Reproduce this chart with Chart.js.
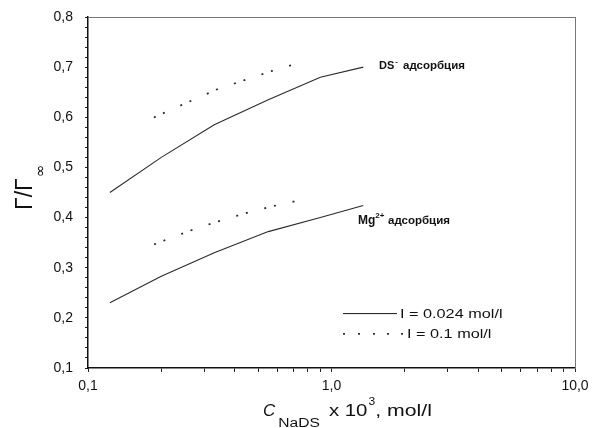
<!DOCTYPE html>
<html lang="ru">
<head>
    <meta charset="UTF-8">
    <title>Адсорбция DS- и Mg2+</title>
    <script src="https://cdn.jsdelivr.net/npm/chart.js"></script>
    <style>
        body { margin: 0; background: #fff; }
    </style>
</head>
<body>
    <canvas id="adsChart" width="592" height="428"></canvas>

    <script>
        // concentrations C(NaDS) x 10^3, mol/l
        const concLowI = [0.123, 0.2, 0.33, 0.55, 0.9, 1.35];
        const concHighI = [0.168, 0.263, 0.34, 0.439, 0.566, 0.731];

        // Г/Г∞ for I = 0.024 mol/l
        const dsLowI = [0.45, 0.52, 0.585, 0.635, 0.68, 0.70];
        const mgLowI = [0.23, 0.283, 0.33, 0.372, 0.40, 0.424];

        // Г/Г∞ for I = 0.1 mol/l
        const dsHighI = [0.59, 0.632, 0.656, 0.674, 0.692, 0.708];
        const mgHighI = [0.338, 0.374, 0.392, 0.408, 0.422, 0.434];

        // log axis tick marks (1..9 in each decade) and the labelled ones
        const xTickMarks = [0.1, 0.2, 0.3, 0.4, 0.5, 0.6, 0.7, 0.8, 0.9,
                            1, 2, 3, 4, 5, 6, 7, 8, 9, 10];
        const xTickValues = [0.1, 1, 10];
        const xTickText = ['0,1', '1,0', '10,0'];
        const legendText = ['I = 0.024 mol/l', 'I = 0.1 mol/l'];

        const INK = '#2a2a2a';
        const DOTS = [2, 8, 2, 17];
        const FONT = 'Arial, "Liberation Sans"';

        const toPoints = (xs, ys) => xs.map((x, i) => ({ x: x, y: ys[i] }));

        function lineSet(label, xs, ys, dotted) {
            return {
                label: label,
                data: toPoints(xs, ys),
                borderColor: INK,
                borderWidth: dotted ? 1.7 : 1.1,
                borderDash: dotted ? DOTS : [],
                borderDashOffset: dotted ? 17 : 0,
                pointRadius: 0,
                tension: 0,
                fill: false
            };
        }

        // text drawn with an optional horizontal stretch
        function drawText(g, str, x, y, font, sx) {
            g.save();
            g.font = font;
            g.translate(x, y);
            g.scale(sx || 1, 1);
            g.fillText(str, 0, 0);
            const w = g.measureText(str).width * (sx || 1);
            g.restore();
            return w;
        }

        // titles, curve captions and legend
        const textPlugin = {
            id: 'captions',
            afterDraw(chart) {
                const g = chart.ctx;
                g.save();
                g.fillStyle = '#111';
                g.textBaseline = 'alphabetic';
                g.textAlign = 'left';

                // x axis title
                let tx = 263;
                tx += drawText(g, 'C', tx, 416, 'italic 17px ' + FONT, 1.0) + 3;
                tx += drawText(g, 'NaDS', tx, 427, '12px ' + FONT, 1.3) + 9;
                tx += drawText(g, 'x 10', tx, 416, '17px ' + FONT, 1.2) + 1;
                tx += drawText(g, '3', tx, 405, '11px ' + FONT, 1.1);
                drawText(g, ', mol/l', tx, 416, '17px ' + FONT, 1.25);

                // y axis title, rotated
                g.save();
                g.translate(32, 210);
                g.rotate(-Math.PI / 2);
                g.font = '23px ' + FONT;
                g.fillText('Γ/Γ', 0, 0);
                g.font = '15px "DejaVu Sans", Arial';
                g.textBaseline = 'middle';
                g.fillText('∞', 33, 9);
                g.restore();

                // curve captions
                let lx = 379;
                lx += drawText(g, 'DS', lx, 69, 'bold 11px ' + FONT, 1.0);
                drawText(g, '-', lx + 1, 64, 'bold 8px ' + FONT, 1.0);
                drawText(g, 'адсорбция', 403, 69, 'bold 11.5px ' + FONT, 1.0);

                lx = 358;
                lx += drawText(g, 'Mg', lx, 224, 'bold 12px ' + FONT, 1.0);
                drawText(g, '2+', lx, 218, 'bold 8px ' + FONT, 1.0);
                drawText(g, 'адсорбция', 388, 224, 'bold 11.5px ' + FONT, 1.0);

                // legend samples
                g.fillStyle = INK;
                g.fillRect(343, 313, 54, 1.1);
                for (const dx of [0, 15, 30, 44, 58]) {
                    g.fillRect(343 + dx, 333, 2, 1.7);
                }
                g.fillStyle = '#111';
                drawText(g, legendText[0], 400, 318, '13px ' + FONT, 1.25);
                drawText(g, legendText[1], 407, 338, '13px ' + FONT, 1.25);

                g.restore();
            }
        };

        const tickMarks = { display: true, drawOnChartArea: false, drawTicks: true, tickLength: 4, color: '#222', lineWidth: 1 };
        const isMajor = v => Math.abs(v * 10 - Math.round(v * 10)) < 1e-6;

        const canvas = document.getElementById('adsChart');
        new Chart(canvas, {
            type: 'line',
            data: {
                datasets: [
                    lineSet('DS- I=0.024', concLowI, dsLowI, false),
                    lineSet('DS- I=0.1', concHighI, dsHighI, true),
                    lineSet('Mg2+ I=0.024', concLowI, mgLowI, false),
                    lineSet('Mg2+ I=0.1', concHighI, mgHighI, true)
                ]
            },
            options: {
                responsive: false,
                animation: false,
                layout: { padding: { top: 17, right: 17, left: 0, bottom: 0 } },
                plugins: {
                    legend: { display: false },
                    tooltip: { enabled: false }
                },
                scales: {
                    x: {
                        type: 'logarithmic',
                        min: 0.1,
                        max: 10,
                        afterBuildTicks: s => { s.ticks = xTickMarks.map(v => ({ value: v })); },
                        afterFit: s => { s.height = 60; s.paddingLeft = 0; s.paddingRight = 0; },
                        grid: tickMarks,
                        border: { display: true, color: '#111', width: 1.5 },
                        ticks: {
                            autoSkip: false,
                            maxRotation: 0,
                            padding: 6,
                            color: '#111',
                            font: { family: FONT, size: 14 },
                            callback: v => {
                                const i = xTickValues.findIndex(t => Math.abs(t - v) < 1e-9);
                                return i >= 0 ? xTickText[i] : '';
                            }
                        }
                    },
                    y: {
                        min: 0.1,
                        max: 0.8,
                        afterFit: s => { s.width = 88; s.paddingTop = 0; s.paddingBottom = 0; },
                        grid: Object.assign({}, tickMarks, { tickLength: 3 }),
                        border: { display: true, color: '#111', width: 1.5 },
                        ticks: {
                            stepSize: 0.02,
                            maxTicksLimit: 40,
                            autoSkip: false,
                            padding: 12,
                            color: '#111',
                            font: { family: FONT, size: 14 },
                            callback: v => isMajor(v) ? v.toFixed(1).replace('.', ',') : ''
                        }
                    },
                    // plain edges closing the box on top and right
                    x2: {
                        type: 'linear',
                        position: 'top',
                        min: 0,
                        max: 1,
                        afterFit: s => { s.height = 0; s.paddingLeft = 0; s.paddingRight = 0; },
                        ticks: { display: false },
                        grid: { display: false },
                        border: { display: true, color: '#777', width: 1 }
                    },
                    y2: {
                        type: 'linear',
                        position: 'right',
                        min: 0,
                        max: 1,
                        afterFit: s => { s.width = 0; s.paddingTop = 0; s.paddingBottom = 0; },
                        ticks: { display: false },
                        grid: { display: false },
                        border: { display: true, color: '#777', width: 1 }
                    }
                }
            },
            plugins: [textPlugin]
        });
    </script>
</body>
</html>
